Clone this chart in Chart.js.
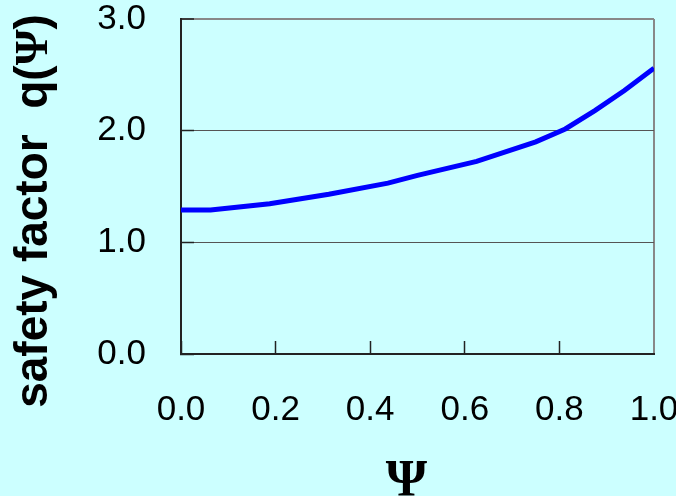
<!DOCTYPE html>
<html>
<head>
<meta charset="utf-8">
<script src="https://cdn.jsdelivr.net/npm/chart.js@4.4.1/dist/chart.umd.min.js"></script>
<style>
  html, body { margin: 0; padding: 0; background: #CCFFFF; }
  canvas { display: block; }
</style>
</head>
<body>
<canvas id="chart" width="676" height="496"></canvas>
<script>
// q profile against normalised flux
const psi = [0, 0.0625, 0.1875, 0.3125, 0.4375, 0.5, 0.625, 0.75, 0.8125, 0.875, 0.9375, 1.0];
const q   = [1.29, 1.29, 1.345, 1.43, 1.53, 1.60, 1.725, 1.90, 2.015, 2.18, 2.36, 2.56];

const xTicks = [0, 0.2, 0.4, 0.6, 0.8, 1.0];
const yTicks = [0, 1, 2, 3];

const xTitle = 'Ψ';
const yTitleParts = ['safety factor  q(', 'Ψ', ')'];

const SANS = '"Liberation Sans", Arial, sans-serif';
const SERIF = '"Liberation Serif", "Times New Roman", serif';

// axis titles, drawn with mixed sans / serif glyphs
const axisTitles = {
  id: 'axisTitles',
  afterDraw(chart) {
    const ctx = chart.ctx;
    const a = chart.chartArea;
    ctx.save();
    ctx.fillStyle = '#000000';

    ctx.font = 'bold 53px ' + SERIF;
    ctx.textAlign = 'center';
    ctx.textBaseline = 'alphabetic';
    ctx.fillText(xTitle, (a.left + a.right) / 2 - 11, 496);

    const fonts = ['bold 46px ' + SANS, 'bold 46px ' + SERIF, 'bold 46px ' + SANS];
    let total = 0;
    const widths = yTitleParts.map((t, i) => {
      ctx.font = fonts[i];
      const w = ctx.measureText(t).width;
      total += w;
      return w;
    });
    ctx.translate(47, 211);
    ctx.rotate(-Math.PI / 2);
    ctx.textAlign = 'left';
    let x = -total / 2;
    yTitleParts.forEach((t, i) => {
      ctx.font = fonts[i];
      ctx.fillText(t, x, 0);
      x += widths[i];
    });
    ctx.restore();
  }
};

new Chart(document.getElementById('chart'), {
  type: 'scatter',
  data: {
    datasets: [{
      data: psi.map((p, i) => ({ x: p, y: q[i] })),
      showLine: true,
      borderColor: '#0000FF',
      borderWidth: 5,
      pointRadius: 0,
      pointHoverRadius: 0,
      tension: 0,
      fill: false
    }]
  },
  options: {
    responsive: false,
    animation: false,
    events: [],
    layout: { padding: { top: 19, right: 22, bottom: 0, left: 0 } },
    plugins: {
      legend: { display: false },
      tooltip: { enabled: false }
    },
    scales: {
      x: {
        type: 'linear',
        min: 0,
        max: 1,
        afterBuildTicks: s => { s.ticks = xTicks.map(v => ({ value: v })); },
        afterFit: s => { s.height = 142; s.paddingLeft = 0; s.paddingRight = 0; },
        ticks: {
          color: '#000000',
          font: { family: SANS, size: 35, lineHeight: 1 },
          padding: 52,
          maxRotation: 0,
          autoSkip: false,
          callback: v => Number(v).toFixed(1)
        },
        grid: {
          drawOnChartArea: true,
          color: c => (c.tick && c.tick.value === 1 ? '#888888' : 'rgba(0,0,0,0)'),
          lineWidth: c => (c.tick && c.tick.value === 1 ? 2 : 1),
          tickLength: -13,
          tickColor: c => (c.tick && c.tick.value === 1 ? '#888888' : '#222222'),
          tickWidth: 1.5
        },
        border: { color: '#222222', width: 2 }
      },
      y: {
        type: 'linear',
        min: 0,
        max: 3,
        afterBuildTicks: s => { s.ticks = yTicks.map(v => ({ value: v })); },
        afterFit: s => { s.width = 181; s.paddingTop = 0; s.paddingBottom = 0; },
        ticks: {
          color: '#000000',
          font: { family: SANS, size: 35, lineHeight: 1 },
          padding: 48,
          autoSkip: false,
          callback: v => Number(v).toFixed(1)
        },
        grid: {
          color: c => {
            const v = c.tick && c.tick.value;
            if (v === 3) return '#888888';
            if (v === 0) return 'rgba(0,0,0,0)';
            return '#555555';
          },
          lineWidth: c => (c.tick && c.tick.value === 3 ? 2 : 1),
          tickLength: -13,
          tickColor: '#222222',
          tickWidth: 1.5
        },
        border: { color: '#222222', width: 2 }
      }
    }
  },
  plugins: [axisTitles]
});
</script>
</body>
</html>
